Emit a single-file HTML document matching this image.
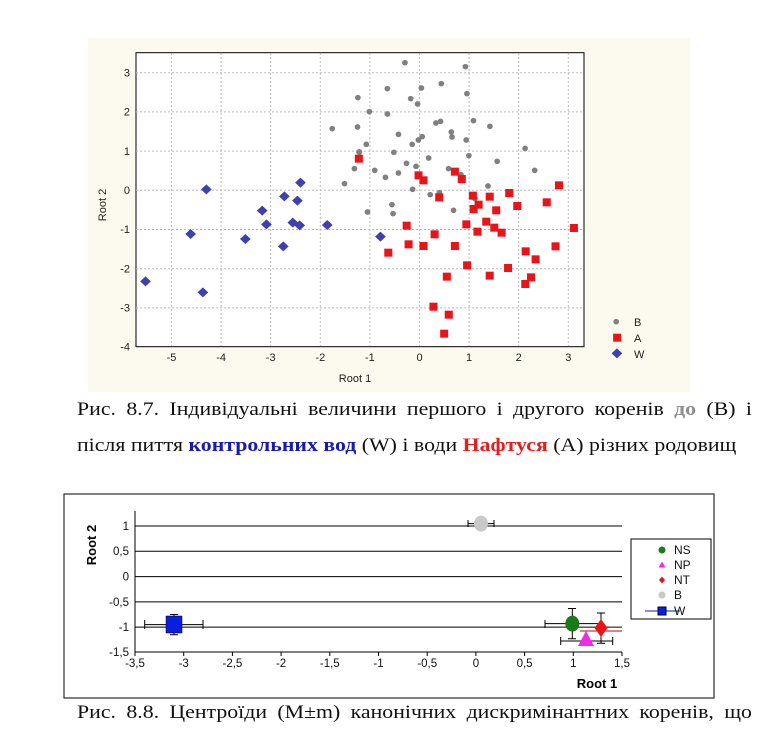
<!DOCTYPE html>
<html><head><meta charset="utf-8"><style>
body{margin:0;background:#fff;width:772px;height:740px;overflow:hidden;position:relative}
svg{position:absolute;left:0;top:0}
.cap{position:absolute;left:77px;width:572px;font-family:"Liberation Serif",serif;font-size:18.5px;color:#111;text-align:justify;text-align-last:justify;white-space:nowrap;transform:scaleX(1.18);transform-origin:0 0}
</style></head><body>
<svg width="772" height="740" viewBox="0 0 772 740" font-family="Liberation Sans, sans-serif">
<rect x="88" y="38" width="602" height="354" fill="#fcf9ee"/>
<rect x="136" y="52.7" width="448" height="294" fill="#fff" stroke="#000" stroke-width="1"/>
<g stroke="#bbb" stroke-dasharray="2,2" stroke-width="1">
<line x1="171.5" y1="53" x2="171.5" y2="346"/><line x1="221.1" y1="53" x2="221.1" y2="346"/><line x1="270.7" y1="53" x2="270.7" y2="346"/><line x1="320.3" y1="53" x2="320.3" y2="346"/><line x1="369.9" y1="53" x2="369.9" y2="346"/><line x1="419.5" y1="53" x2="419.5" y2="346"/><line x1="469.1" y1="53" x2="469.1" y2="346"/><line x1="518.7" y1="53" x2="518.7" y2="346"/><line x1="568.3" y1="53" x2="568.3" y2="346"/>
<line x1="136" y1="72.7" x2="584" y2="72.7"/><line x1="136" y1="111.9" x2="584" y2="111.9"/><line x1="136" y1="151.1" x2="584" y2="151.1"/><line x1="136" y1="190.3" x2="584" y2="190.3"/><line x1="136" y1="229.5" x2="584" y2="229.5"/><line x1="136" y1="268.7" x2="584" y2="268.7"/><line x1="136" y1="307.9" x2="584" y2="307.9"/>
</g>
<g font-size="11" fill="#222" text-anchor="middle">
<text x="171.5" y="361">-5</text><text x="221.1" y="361">-4</text><text x="270.7" y="361">-3</text><text x="320.3" y="361">-2</text><text x="369.9" y="361">-1</text><text x="419.5" y="361">0</text><text x="469.1" y="361">1</text><text x="518.7" y="361">2</text><text x="568.3" y="361">3</text>
<text x="355" y="382">Root 1</text>
</g>
<g font-size="11" fill="#222" text-anchor="end">
<text x="130" y="76.5">3</text><text x="130" y="115.7">2</text><text x="130" y="155">1</text><text x="130" y="194">0</text><text x="130" y="233">-1</text><text x="130" y="272.5">-2</text><text x="130" y="311.7">-3</text><text x="130" y="350.5">-4</text>
</g>
<text x="106" y="205" font-size="11" fill="#222" text-anchor="middle" transform="rotate(-90 106 205)">Root 2</text>
<g transform="matrix(0.38268,0,0,0.33333,90,40)">
<g fill="#808080">
<ellipse cx="823" cy="68" rx="7.5" ry="8.5"/><ellipse cx="981" cy="80" rx="7.5" ry="8.5"/><ellipse cx="918" cy="131" rx="7.5" ry="8.5"/><ellipse cx="866" cy="144" rx="7.5" ry="8.5"/><ellipse cx="700" cy="173" rx="7.5" ry="8.5"/><ellipse cx="985" cy="161" rx="7.5" ry="8.5"/><ellipse cx="777" cy="146" rx="7.5" ry="8.5"/><ellipse cx="838" cy="176" rx="7.5" ry="8.5"/><ellipse cx="856" cy="192" rx="7.5" ry="8.5"/><ellipse cx="730" cy="215" rx="7.5" ry="8.5"/><ellipse cx="777" cy="222" rx="7.5" ry="8.5"/><ellipse cx="633" cy="266" rx="7.5" ry="8.5"/><ellipse cx="699" cy="261" rx="7.5" ry="8.5"/><ellipse cx="904" cy="249" rx="7.5" ry="8.5"/><ellipse cx="916" cy="244" rx="7.5" ry="8.5"/><ellipse cx="1002" cy="242" rx="7.5" ry="8.5"/><ellipse cx="1045" cy="259" rx="7.5" ry="8.5"/><ellipse cx="944" cy="276" rx="7.5" ry="8.5"/><ellipse cx="946" cy="291" rx="7.5" ry="8.5"/><ellipse cx="806" cy="283" rx="7.5" ry="8.5"/><ellipse cx="868" cy="290" rx="7.5" ry="8.5"/><ellipse cx="858" cy="300" rx="7.5" ry="8.5"/><ellipse cx="722" cy="313" rx="7.5" ry="8.5"/><ellipse cx="842" cy="313" rx="7.5" ry="8.5"/><ellipse cx="983" cy="300" rx="7.5" ry="8.5"/><ellipse cx="704" cy="336" rx="7.5" ry="8.5"/><ellipse cx="794" cy="337" rx="7.5" ry="8.5"/><ellipse cx="1137" cy="325" rx="7.5" ry="8.5"/><ellipse cx="885" cy="354" rx="7.5" ry="8.5"/><ellipse cx="990" cy="347" rx="7.5" ry="8.5"/><ellipse cx="852" cy="379" rx="7.5" ry="8.5"/><ellipse cx="827" cy="370" rx="7.5" ry="8.5"/><ellipse cx="1064" cy="364" rx="7.5" ry="8.5"/><ellipse cx="691" cy="386" rx="7.5" ry="8.5"/><ellipse cx="744" cy="391" rx="7.5" ry="8.5"/><ellipse cx="937" cy="386" rx="7.5" ry="8.5"/><ellipse cx="969" cy="404" rx="7.5" ry="8.5"/><ellipse cx="1162" cy="391" rx="7.5" ry="8.5"/><ellipse cx="772" cy="412" rx="7.5" ry="8.5"/><ellipse cx="806" cy="399" rx="7.5" ry="8.5"/><ellipse cx="665" cy="431" rx="7.5" ry="8.5"/><ellipse cx="843" cy="448" rx="7.5" ry="8.5"/><ellipse cx="889" cy="464" rx="7.5" ry="8.5"/><ellipse cx="913" cy="458" rx="7.5" ry="8.5"/><ellipse cx="1006" cy="476" rx="7.5" ry="8.5"/><ellipse cx="1040" cy="438" rx="7.5" ry="8.5"/><ellipse cx="789" cy="494" rx="7.5" ry="8.5"/><ellipse cx="725" cy="516" rx="7.5" ry="8.5"/><ellipse cx="792" cy="521" rx="7.5" ry="8.5"/><ellipse cx="950" cy="511" rx="7.5" ry="8.5"/><ellipse cx="703" cy="336" rx="7.5" ry="8.5"/>
</g>
<g fill="#e8141a">
<rect x="692" y="344" width="21" height="24"/><rect x="848" y="394" width="21" height="24"/><rect x="861" y="409" width="21" height="24"/><rect x="943" y="383" width="21" height="24"/><rect x="961" y="405" width="21" height="24"/><rect x="902" y="460" width="21" height="24"/><rect x="990" y="455" width="21" height="24"/><rect x="1034" y="458" width="21" height="24"/><rect x="1085" y="447" width="21" height="24"/><rect x="1215" y="424" width="21" height="24"/><rect x="1005" y="482" width="21" height="24"/><rect x="992" y="495" width="21" height="24"/><rect x="1051" y="499" width="21" height="24"/><rect x="1106" y="486" width="21" height="24"/><rect x="1183" y="475" width="21" height="24"/><rect x="1025" y="533" width="21" height="24"/><rect x="973" y="541" width="21" height="24"/><rect x="1046" y="551" width="21" height="24"/><rect x="1002" y="563" width="21" height="24"/><rect x="1065" y="566" width="21" height="24"/><rect x="817" y="545" width="21" height="24"/><rect x="890" y="571" width="21" height="24"/><rect x="1254" y="552" width="21" height="24"/><rect x="822" y="601" width="21" height="24"/><rect x="861" y="606" width="21" height="24"/><rect x="943" y="606" width="21" height="24"/><rect x="769" y="626" width="21" height="24"/><rect x="1206" y="607" width="21" height="24"/><rect x="1128" y="622" width="21" height="24"/><rect x="1154" y="646" width="21" height="24"/><rect x="975" y="664" width="21" height="24"/><rect x="1082" y="672" width="21" height="24"/><rect x="922" y="698" width="21" height="24"/><rect x="1034" y="695" width="21" height="24"/><rect x="1142" y="700" width="21" height="24"/><rect x="1127" y="720" width="21" height="24"/><rect x="887" y="788" width="21" height="24"/><rect x="927" y="812" width="21" height="24"/><rect x="915" y="869" width="21" height="24"/>
<rect x="1367" y="881" width="21" height="24"/>
</g>
<g fill="#3f3fb0">
<path d="M304 433l14 15-14 15-14-15z"/><path d="M550 413l14 15-14 15-14-15z"/><path d="M508 454l14 15-14 15-14-15z"/><path d="M542 467l14 15-14 15-14-15z"/><path d="M450 497l14 15-14 15-14-15z"/><path d="M461 538l14 15-14 15-14-15z"/><path d="M530 533l14 15-14 15-14-15z"/><path d="M548 541l14 15-14 15-14-15z"/><path d="M620 540l14 15-14 15-14-15z"/><path d="M263 567l14 15-14 15-14-15z"/><path d="M406 582l14 15-14 15-14-15z"/><path d="M759 575l14 15-14 15-14-15z"/><path d="M505 604l14 15-14 15-14-15z"/><path d="M145 709l14 15-14 15-14-15z"/><path d="M295 742l14 15-14 15-14-15z"/>
<path d="M1377 925l14 15-14 15-14-15z"/>
</g>
<ellipse cx="1375" cy="845" rx="7.5" ry="8.5" fill="#808080"/>
</g>
<g font-size="11" fill="#222"><text x="634" y="326">B</text><text x="634" y="342">A</text><text x="634" y="358">W</text></g>

<rect x="64" y="494" width="650" height="204" fill="#fff" stroke="#000" stroke-width="1"/>
<g stroke="#000" stroke-width="1">
<line x1="135" y1="526" x2="622" y2="526"/><line x1="135" y1="551.3" x2="622" y2="551.3"/><line x1="135" y1="576.6" x2="622" y2="576.6"/><line x1="135" y1="601.9" x2="622" y2="601.9"/><line x1="135" y1="627.1" x2="622" y2="627.1"/>
<line x1="135" y1="511" x2="135" y2="652"/><line x1="135" y1="652" x2="622" y2="652"/>
<line x1="580" y1="631" x2="622" y2="631" stroke="#c00"/>
</g>
<g stroke="#000" stroke-width="1">
<line x1="135" y1="652" x2="135" y2="656"/><line x1="183.7" y1="652" x2="183.7" y2="656"/><line x1="232.4" y1="652" x2="232.4" y2="656"/><line x1="281.1" y1="652" x2="281.1" y2="656"/><line x1="329.8" y1="652" x2="329.8" y2="656"/><line x1="378.5" y1="652" x2="378.5" y2="656"/><line x1="427.2" y1="652" x2="427.2" y2="656"/><line x1="475.9" y1="652" x2="475.9" y2="656"/><line x1="524.6" y1="652" x2="524.6" y2="656"/><line x1="573.3" y1="652" x2="573.3" y2="656"/><line x1="622" y1="652" x2="622" y2="656"/>
</g>
<g font-size="11.5" fill="#111" text-anchor="middle">
<text x="135" y="667">-3,5</text><text x="183.7" y="667">-3</text><text x="232.4" y="667">-2,5</text><text x="281.1" y="667">-2</text><text x="329.8" y="667">-1,5</text><text x="378.5" y="667">-1</text><text x="427.2" y="667">-0,5</text><text x="475.9" y="667">0</text><text x="524.6" y="667">0,5</text><text x="573.3" y="667">1</text><text x="622" y="667">1,5</text>
</g>
<g font-size="11.5" fill="#111" text-anchor="end">
<text x="129" y="530">1</text><text x="129" y="555">0,5</text><text x="129" y="580.5">0</text><text x="129" y="606">-0,5</text><text x="129" y="631">-1</text><text x="129" y="656">-1,5</text>
</g>
<text x="597" y="688" font-size="13" font-weight="bold" text-anchor="middle">Root 1</text>
<text x="96" y="545" font-size="13" font-weight="bold" text-anchor="middle" transform="rotate(-90 96 545)">Root 2</text>
<g stroke="#000" stroke-width="1" fill="none">
<path d="M468 523.6h26M468 520v7M494 520v7M481 517.5v12M477 517.5h8M477 529.5h8"/>
<path d="M144.7 624.6h58.3M144.7 620v9M203 620v9M174 614.5v20.2M170 614.5h8M170 634.7h8"/>
<path d="M545 623.6h58M545 620v8M572.3 608.5v30.3M568 608.5h8M568 638.8h8"/>
<path d="M560.7 641h52M560.7 637v8M612.7 637v8"/>
<path d="M601 613v30.3M597 613h8M597 643.3h8"/>
</g>
<ellipse cx="481" cy="523.6" rx="7" ry="8" fill="#c8c8c8"/>
<rect x="166" y="616" width="16" height="17" fill="#0a1ee0" stroke="#000" stroke-width="0.5"/>
<ellipse cx="572.3" cy="623.6" rx="7" ry="8" fill="#1a7a1a"/>
<path d="M586 631l8 15h-16z" fill="#f028f0"/>
<path d="M601 619l6.5 9-6.5 9-6.5-9z" fill="#e8141a"/>
<rect x="631" y="539" width="80" height="80" fill="#fff" stroke="#000"/>
<circle cx="662" cy="550" r="3.5" fill="#1a7a1a"/>
<path d="M662 561.5l3.5 6h-7z" fill="#f028f0"/>
<path d="M662 576.5l3 3.5-3 3.5-3-3.5z" fill="#e8141a"/>
<circle cx="662" cy="595" r="3.5" fill="#c8c8c8"/>
<line x1="645" y1="611" x2="680" y2="611" stroke="#0a1eb0"/>
<rect x="658" y="607" width="8" height="8" fill="#0a1ee0" stroke="#003"/>
<g font-size="12" fill="#111"><text x="674" y="554">NS</text><text x="674" y="569">NP</text><text x="674" y="584">NT</text><text x="674" y="599">B</text><text x="674" y="615">W</text></g>
</svg>
<div class="cap" style="top:400px">Рис. 8.7. Індивідуальні величини першого і другого коренів <b style="color:#909090">до</b> (B) і</div>
<div class="cap" style="top:436px;text-align-last:left;width:auto">після пиття <b style="color:#1a1ab0">контрольних вод</b> (W) і води <b style="color:#e02020">Нафтуся</b> (A) різних родовищ</div>
<div class="cap" style="top:703px">Рис. 8.8. Центроїди (M±m) канонічних дискримінантних коренів, що</div>
</body></html>
